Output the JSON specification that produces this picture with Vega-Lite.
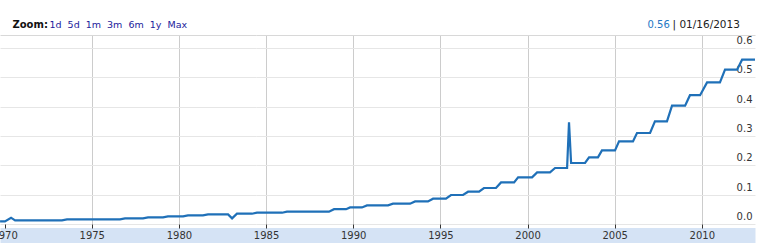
{
  "$schema": "https://vega.github.io/schema/vega-lite/v6.json",
  "width": 755,
  "height": 189,
  "autosize": {"type": "none"},
  "padding": {"left": 0, "top": 35, "right": 13, "bottom": 26},
  "background": "white",
  "config": {
    "view": {"stroke": null},
    "font": "DejaVu Sans",
    "axis": {"labelFont": "DejaVu Sans", "titleFont": "DejaVu Sans"}
  },
  "data": {
    "values": [
      {"year": 1969.74, "value": 0.009},
      {"year": 1970.02, "value": 0.009},
      {"year": 1970.37, "value": 0.0215},
      {"year": 1970.60, "value": 0.0123},
      {"year": 1973.29, "value": 0.0123},
      {"year": 1973.58, "value": 0.0157},
      {"year": 1976.62, "value": 0.0157},
      {"year": 1976.91, "value": 0.0191},
      {"year": 1977.94, "value": 0.0191},
      {"year": 1978.23, "value": 0.0225},
      {"year": 1979.09, "value": 0.0225},
      {"year": 1979.37, "value": 0.0259},
      {"year": 1980.24, "value": 0.0259},
      {"year": 1980.52, "value": 0.0293},
      {"year": 1981.38, "value": 0.0293},
      {"year": 1981.67, "value": 0.0327},
      {"year": 1982.82, "value": 0.0327},
      {"year": 1983.05, "value": 0.0191},
      {"year": 1983.33, "value": 0.0351},
      {"year": 1984.19, "value": 0.0351},
      {"year": 1984.48, "value": 0.0385},
      {"year": 1985.92, "value": 0.0385},
      {"year": 1986.20, "value": 0.0419},
      {"year": 1988.61, "value": 0.0419},
      {"year": 1988.90, "value": 0.0505},
      {"year": 1989.59, "value": 0.0505},
      {"year": 1989.82, "value": 0.0566},
      {"year": 1990.50, "value": 0.0566},
      {"year": 1990.79, "value": 0.0634},
      {"year": 1992.00, "value": 0.0634},
      {"year": 1992.28, "value": 0.0692},
      {"year": 1993.26, "value": 0.0692},
      {"year": 1993.55, "value": 0.0771},
      {"year": 1994.29, "value": 0.0771},
      {"year": 1994.58, "value": 0.0863},
      {"year": 1995.32, "value": 0.0863},
      {"year": 1995.61, "value": 0.0989},
      {"year": 1996.30, "value": 0.0989},
      {"year": 1996.59, "value": 0.1101},
      {"year": 1997.22, "value": 0.1101},
      {"year": 1997.50, "value": 0.1227},
      {"year": 1998.19, "value": 0.1227},
      {"year": 1998.48, "value": 0.1418},
      {"year": 1999.23, "value": 0.1418},
      {"year": 1999.46, "value": 0.1589},
      {"year": 2000.26, "value": 0.1589},
      {"year": 2000.55, "value": 0.1759},
      {"year": 2001.29, "value": 0.1759},
      {"year": 2001.58, "value": 0.1909},
      {"year": 2002.27, "value": 0.1909},
      {"year": 2002.38, "value": 0.3466},
      {"year": 2002.50, "value": 0.2080},
      {"year": 2003.30, "value": 0.2080},
      {"year": 2003.53, "value": 0.2271},
      {"year": 2004.04, "value": 0.2271},
      {"year": 2004.27, "value": 0.2509},
      {"year": 2005.02, "value": 0.2509},
      {"year": 2005.25, "value": 0.2816},
      {"year": 2006.05, "value": 0.2816},
      {"year": 2006.28, "value": 0.3103},
      {"year": 2007.03, "value": 0.3103},
      {"year": 2007.31, "value": 0.3498},
      {"year": 2008.00, "value": 0.3498},
      {"year": 2008.29, "value": 0.4033},
      {"year": 2009.04, "value": 0.4033},
      {"year": 2009.32, "value": 0.4391},
      {"year": 2009.90, "value": 0.4391},
      {"year": 2010.30, "value": 0.4828},
      {"year": 2011.04, "value": 0.4828},
      {"year": 2011.33, "value": 0.5261},
      {"year": 2012.02, "value": 0.5261},
      {"year": 2012.31, "value": 0.5602},
      {"year": 2013.05, "value": 0.5602}
    ]
  },
  "resolve": {"axis": {"x": "independent"}},
  "layer": [
    {
      "mark": {"type": "line", "color": "#1f70b8", "strokeWidth": 2.2},
      "encoding": {
        "x": {
          "field": "year", "type": "quantitative",
          "scale": {"domain": [1969.736, 2013.05], "nice": false, "zero": false},
          "axis": {
            "orient": "bottom", "grid": true, "gridColor": "#cccccc", "gridWidth": 1,
            "values": [1975, 1980, 1985, 1990, 1995, 2000, 2005, 2010],
            "labels": false, "ticks": false, "domain": false, "title": null, "zindex": 0
          }
        },
        "y": {
          "field": "value", "type": "quantitative",
          "scale": {"domain": [0, 0.6444], "nice": false, "zero": false},
          "axis": {
            "orient": "right",
            "values": [0, 0.1, 0.2, 0.3, 0.4, 0.5, 0.6],
            "format": ".1f", "grid": true, "gridColor": "#e6e6e6",
            "ticks": false, "domain": false,
            "labelAlign": "right", "labelPadding": -3, "labelOffset": -7.5,
            "labelBaseline": "middle", "labelFontSize": 10, "labelColor": "#333333",
            "title": "|\u00a001/16/2013", "titleX": -83, "titleY": -8, "titleAngle": 0,
            "titleAlign": "left", "titleBaseline": "alphabetic", "titleFontSize": 10.5,
            "titleFontWeight": "normal", "titleColor": "#222222"
          }
        }
      }
    },
    {
      "mark": {"type": "rule", "opacity": 0},
      "encoding": {
        "x": {
          "field": "year", "type": "quantitative",
          "scale": {"domain": [1969.736, 2013.05], "nice": false, "zero": false},
          "axis": {
            "orient": "bottom", "offset": 11, "domain": true, "domainColor": "#d5e3f5",
            "domainWidth": 15, "ticks": false, "labels": false, "grid": false, "zindex": 0,
            "title": "0.56", "titleX": 647, "titleY": -208, "titleAlign": "left",
            "titleBaseline": "alphabetic", "titleFontSize": 10, "titleFontWeight": "normal",
            "titleColor": "#2477c4"
          }
        }
      }
    },
    {
      "mark": {"type": "rule", "opacity": 0},
      "encoding": {
        "x": {
          "field": "year", "type": "quantitative",
          "scale": {"domain": [1969.736, 2013.05], "nice": false, "zero": false},
          "axis": {
            "orient": "bottom", "values": [1970, 1975, 1980, 1985, 1990, 1995, 2000, 2005, 2010],
            "format": "d", "domain": false, "grid": false, "ticks": true, "tickSize": 4,
            "tickColor": "#333333", "labelPadding": 2, "labelFontSize": 10,
            "labelColor": "#333333", "labelFlush": false, "labelOverlap": false,
            "labelBaseline": "top", "zindex": 1,
            "title": "1d\u00a0\u00a05d\u00a0\u00a01m\u00a0\u00a03m\u00a0\u00a06m\u00a0\u00a01y\u00a0\u00a0Max",
            "titleX": 49, "titleY": -197,
            "titleAlign": "left", "titleBaseline": "alphabetic", "titleFontSize": 9.5,
            "titleFontWeight": "normal", "titleColor": "#22229c"
          }
        }
      }
    },
    {
      "mark": {"type": "rule", "opacity": 0},
      "encoding": {
        "x": {
          "field": "year", "type": "quantitative",
          "scale": {"domain": [1969.736, 2013.05], "nice": false, "zero": false},
          "axis": {
            "orient": "top", "domain": true, "domainColor": "#d8d8d8", "domainWidth": 1,
            "ticks": false, "labels": false, "grid": false, "zindex": 0,
            "title": "Zoom:", "titleX": 12, "titleY": -8, "titleAlign": "left",
            "titleBaseline": "alphabetic", "titleFontSize": 10, "titleFontWeight": "bold",
            "titleColor": "#111111"
          }
        }
      }
    }
  ]
}
